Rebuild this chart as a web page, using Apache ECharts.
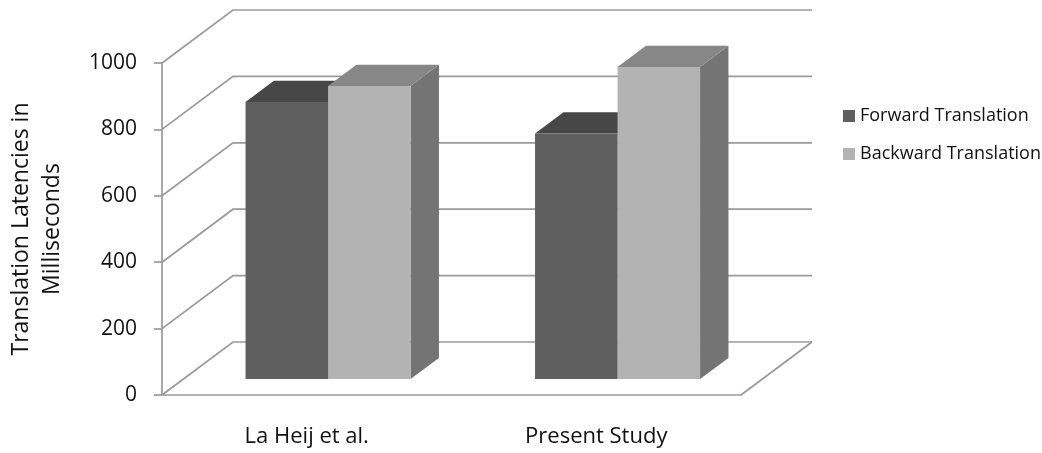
<!DOCTYPE html>
<html>
<head>
<meta charset="utf-8">
<script src="https://cdn.jsdelivr.net/npm/echarts@6/dist/echarts.min.js"></script>
<style>
  html, body { margin: 0; padding: 0; background: #fff; }
  #chart { width: 1042px; height: 453px; }
</style>
</head>
<body>
<div id="chart"></div>
<script>
// Chart data
const categories = ['La Heij et al.', 'Present Study'];
const forwardValues = [835, 740];
const backwardValues = [883, 940];
const yTicks = [0, 200, 400, 600, 800, 1000];
const seriesNames = ['Forward Translation', 'Backward Translation'];

// Oblique 3D look: the floor/walls recede by (DEPTH_X, DEPTH_Y) pixels
const DEPTH_X = 71, DEPTH_Y = -53;
const BAR_FRONT = 0.3;   // bars start 30% into the depth
const BAR_DEPTH = 0.4;   // and occupy 40% of it
const GRID_COLOR = '#9a9a9a';
const FONT = '"Open Sans", "Noto Sans", sans-serif';

const palette = {
  forward:  { front: '#5f5f5f', top: '#474747', side: '#3d3d3d' },
  backward: { front: '#b3b3b3', top: '#878787', side: '#747474' }
};

// Back wall, left wall and floor outline
function renderWalls(params, api) {
  const rect = params.coordSys;
  const x0 = rect.x, x1 = rect.x + rect.width;
  const children = [];
  const lineStyle = { stroke: GRID_COLOR, lineWidth: 1.7, fill: null };
  yTicks.forEach(v => {
    const y = api.coord([0, v])[1];
    children.push({ type: 'polyline', shape: { points: [[x0, y], [x0 + DEPTH_X, y + DEPTH_Y], [x1 + DEPTH_X, y + DEPTH_Y]] }, style: lineStyle });
  });
  const y0 = api.coord([0, 0])[1];
  children.push({ type: 'line', shape: { x1: x1, y1: y0, x2: x1 + DEPTH_X, y2: y0 + DEPTH_Y }, style: lineStyle });
  return { type: 'group', children: children };
}

// One bar drawn as front, top and side faces
function makeBarRenderer(slot, colors) {
  return function (params, api) {
    const cat = api.value(0), val = api.value(1);
    const base = api.coord([cat, 0]);
    const top = api.coord([cat, val]);
    const bandW = api.size([1, 0])[0];
    const w = bandW * 0.285;
    const fx = DEPTH_X * BAR_FRONT, fy = DEPTH_Y * BAR_FRONT;
    const bx = DEPTH_X * BAR_DEPTH, by = DEPTH_Y * BAR_DEPTH;
    const L = base[0] + (slot === 0 ? -w : 0) + fx;
    const R = L + w;
    const T = top[1] + fy;
    const B = base[1] + fy;
    return {
      type: 'group',
      children: [
        { type: 'polygon', shape: { points: [[R, T], [R + bx, T + by], [R + bx, B + by], [R, B]] }, style: { fill: colors.side } },
        { type: 'polygon', shape: { points: [[L, T], [R, T], [R + bx, T + by], [L + bx, T + by]] }, style: { fill: colors.top } },
        { type: 'rect', shape: { x: L, y: T, width: w, height: B - T }, style: { fill: colors.front } }
      ]
    };
  };
}

const chart = echarts.init(document.getElementById('chart'), null, { renderer: 'canvas' });
chart.setOption({
  animation: false,
  backgroundColor: '#ffffff',
  grid: { left: 162, right: 301, top: 63, bottom: 58, containLabel: false, outerBoundsMode: 'none' },
  legend: {
    orient: 'vertical',
    left: 838,
    top: 102,
    itemWidth: 12,
    itemHeight: 12,
    itemGap: 20,
    textStyle: { fontFamily: FONT, fontSize: 18, color: '#111' },
    data: [
      { name: seriesNames[0], icon: 'rect', itemStyle: { color: palette.forward.front } },
      { name: seriesNames[1], icon: 'rect', itemStyle: { color: palette.backward.front } }
    ]
  },
  xAxis: {
    type: 'category',
    data: categories,
    axisLine: { show: true, lineStyle: { color: GRID_COLOR, width: 1.7 } },
    axisTick: { show: false },
    axisLabel: { fontFamily: FONT, fontSize: 22, color: '#111', margin: 31 },
    splitLine: { show: false }
  },
  yAxis: {
    type: 'value',
    min: 0,
    max: 1000,
    interval: 200,
    name: 'Translation Latencies in\nMilliseconds',
    nameLocation: 'middle',
    nameGap: 94,
    nameRotate: 90,
    nameTextStyle: { fontFamily: FONT, fontSize: 23, color: '#111', lineHeight: 31 },
    axisLine: { show: true, lineStyle: { color: GRID_COLOR, width: 1.7 } },
    axisTick: { show: true, length: 8, lineStyle: { color: GRID_COLOR, width: 1.7 } },
    axisLabel: { fontFamily: FONT, fontSize: 21, color: '#111', margin: 25, formatter: v => String(v) },
    splitLine: { show: false }
  },
  series: [
    {
      type: 'custom',
      name: 'walls',
      silent: true,
      clip: false,
      renderItem: renderWalls,
      data: [[0, 0]],
      z: 1
    },
    {
      type: 'custom',
      name: seriesNames[0],
      clip: false,
      renderItem: makeBarRenderer(0, palette.forward),
      encode: { x: 0, y: 1 },
      data: forwardValues.map((v, i) => [i, v]),
      itemStyle: { color: palette.forward.front },
      z: 2
    },
    {
      type: 'custom',
      name: seriesNames[1],
      clip: false,
      renderItem: makeBarRenderer(1, palette.backward),
      encode: { x: 0, y: 1 },
      data: backwardValues.map((v, i) => [i, v]),
      itemStyle: { color: palette.backward.front },
      z: 3
    }
  ]
});
</script>
</body>
</html>
